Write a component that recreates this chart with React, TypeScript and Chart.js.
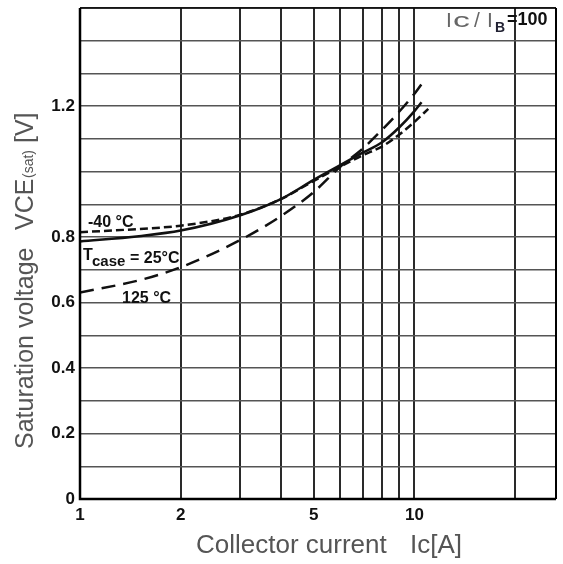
import React, { useEffect, useRef } from 'react';
import { Chart, registerables } from 'chart.js';

Chart.register(...registerables);

// Collector current Ic [A] and saturation voltage VCE(sat) [V] per case temperature
const currents25 = [1, 1.5, 2, 3, 4, 5, 6, 7, 8, 9, 10, 10.5];
const vce25 = [0.787, 0.803, 0.82, 0.866, 0.917, 0.975, 1.02, 1.058, 1.09, 1.135, 1.185, 1.212];

const currentsM40 = [1, 1.5, 2, 3, 4, 5, 6, 7, 8, 9, 10, 11];
const vceM40 = [0.815, 0.825, 0.835, 0.868, 0.917, 0.972, 1.015, 1.05, 1.077, 1.113, 1.152, 1.192];

const currents125 = [1, 1.5, 2, 3, 4, 5, 6, 7, 8, 9, 10, 10.8];
const vce125 = [0.631, 0.668, 0.708, 0.79, 0.865, 0.938, 1.015, 1.07, 1.128, 1.183, 1.238, 1.285];

const xGridValues = [1, 2, 3, 4, 5, 6, 7, 8, 9, 10, 20];
const xLabelValues = [1, 2, 5, 10];
const yLabelTenths = [0, 2, 4, 6, 8, 12];

const FONT = '"Liberation Sans", Arial, sans-serif';

export default function App() {
  const ref = useRef<HTMLCanvasElement>(null);

  useEffect(() => {
    const canvas = ref.current;
    if (!canvas) return;
    const mk = (xs: number[], ys: number[]) => xs.map((x, i) => ({ x, y: ys[i] }));

    const overlay = {
      id: 'overlay',
      afterDraw(chart: any) {
        const ctx: CanvasRenderingContext2D = chart.ctx;
        const a = chart.chartArea;
        ctx.save();
        // frame
        ctx.strokeStyle = '#000';
        ctx.lineWidth = 2.5;
        ctx.beginPath();
        ctx.moveTo(a.left, a.top);
        ctx.lineTo(a.left, a.bottom);
        ctx.lineTo(a.right, a.bottom);
        ctx.stroke();
        ctx.lineWidth = 1.5;
        ctx.beginPath();
        ctx.moveTo(a.left, a.top);
        ctx.lineTo(a.right, a.top);
        ctx.stroke();
        ctx.lineWidth = 2;
        ctx.beginPath();
        ctx.moveTo(a.right, a.top);
        ctx.lineTo(a.right, a.bottom);
        ctx.stroke();

        // axis titles
        ctx.fillStyle = '#555';
        ctx.textBaseline = 'alphabetic';
        ctx.textAlign = 'left';
        ctx.font = `26px ${FONT}`;
        ctx.fillText('Collector current', 196, 553);
        ctx.fillText('Ic[A]', 410, 553);

        ctx.save();
        ctx.translate(33, 449);
        ctx.rotate(-Math.PI / 2);
        ctx.font = `25px ${FONT}`;
        ctx.fillText('Saturation voltage', 0, 0);
        ctx.fillText('VCE', 219, 0);
        ctx.font = `14px ${FONT}`;
        ctx.fillText('(sat)', 271, 0);
        ctx.font = `25px ${FONT}`;
        ctx.fillText('[V]', 306, 0);
        ctx.restore();

        // curve annotations
        ctx.fillStyle = '#111';
        ctx.font = `bold 16px ${FONT}`;
        ctx.fillText('-40 °C', 88, 227);
        ctx.fillText('T', 83, 260);
        ctx.font = `bold 15px ${FONT}`;
        ctx.fillText('case', 92, 266);
        ctx.font = `bold 16px ${FONT}`;
        ctx.fillText('= 25°C', 130, 263);
        ctx.fillText('125 °C', 122, 303);

        // Ic / IB = 100
        ctx.fillStyle = '#666';
        ctx.font = `21px ${FONT}`;
        ctx.fillText('I', 446, 27);
        ctx.save();
        ctx.translate(453, 27);
        ctx.scale(1.6, 1);
        ctx.fillText('c', 0, 0);
        ctx.restore();
        ctx.fillText('/', 474, 27);
        ctx.fillText('I', 487, 27);
        ctx.fillStyle = '#223';
        ctx.font = `bold 14px ${FONT}`;
        ctx.fillText('B', 495, 32);
        ctx.fillStyle = '#111';
        ctx.font = `bold 18px ${FONT}`;
        ctx.fillText('=100', 507, 25);
        ctx.restore();
      },
    };

    const chart = new Chart(canvas, {
      type: 'line',
      data: {
        datasets: [
          {
            label: 'Tcase = 25°C',
            data: mk(currents25, vce25),
            borderColor: '#111',
            borderWidth: 2.5,
            pointRadius: 0,
            cubicInterpolationMode: 'monotone',
            fill: false,
          },
          {
            label: '-40 °C',
            data: mk(currentsM40, vceM40),
            borderColor: '#111',
            borderWidth: 2.5,
            borderDash: [8, 4],
            pointRadius: 0,
            cubicInterpolationMode: 'monotone',
            fill: false,
          },
          {
            label: '125 °C',
            data: mk(currents125, vce125),
            borderColor: '#111',
            borderWidth: 2.5,
            borderDash: [14, 8],
            pointRadius: 0,
            cubicInterpolationMode: 'monotone',
            fill: false,
          },
        ],
      },
      options: {
        responsive: false,
        animation: false,
        devicePixelRatio: 1,
        layout: { padding: { left: 0, right: 7, top: 8, bottom: 0 } },
        plugins: { legend: { display: false }, tooltip: { enabled: false } },
        scales: {
          x: {
            type: 'logarithmic',
            min: 1,
            max: 26.5,
            afterBuildTicks: (scale: any) => {
              scale.ticks = xGridValues.map((v) => ({ value: v }));
            },
            afterFit: (scale: any) => {
              scale.height = 65;
              scale.paddingLeft = 0;
              scale.paddingRight = 0;
            },
            border: { display: false },
            grid: { color: '#2a2a2a', lineWidth: 2, drawTicks: false },
            ticks: {
              autoSkip: false,
              maxRotation: 0,
              padding: 6,
              color: '#111',
              font: { family: FONT, size: 17, weight: 'bold' },
              callback: (v: any) => (xLabelValues.includes(Number(v)) ? String(v) : ''),
            },
          },
          y: {
            type: 'linear',
            min: 0,
            max: 1.5,
            afterFit: (scale: any) => {
              scale.width = 80;
              scale.paddingTop = 0;
              scale.paddingBottom = 0;
            },
            border: { display: false },
            grid: { color: '#555', lineWidth: 1.5, drawTicks: false },
            ticks: {
              stepSize: 0.1,
              autoSkip: false,
              padding: 5,
              color: '#111',
              font: { family: FONT, size: 17, weight: 'bold' },
              callback: (v: any) => {
                const k = Math.round(Number(v) * 10);
                if (!yLabelTenths.includes(k)) return '';
                return k === 0 ? '0' : (k / 10).toFixed(1);
              },
            },
          },
        },
      },
      plugins: [overlay],
    } as any);

    return () => chart.destroy();
  }, []);

  return (
    <div style={{ position: 'absolute', left: 0, top: 0, width: 563, height: 564, background: '#fff' }}>
      <canvas ref={ref} width={563} height={564} style={{ display: 'block' }} />
    </div>
  );
}
